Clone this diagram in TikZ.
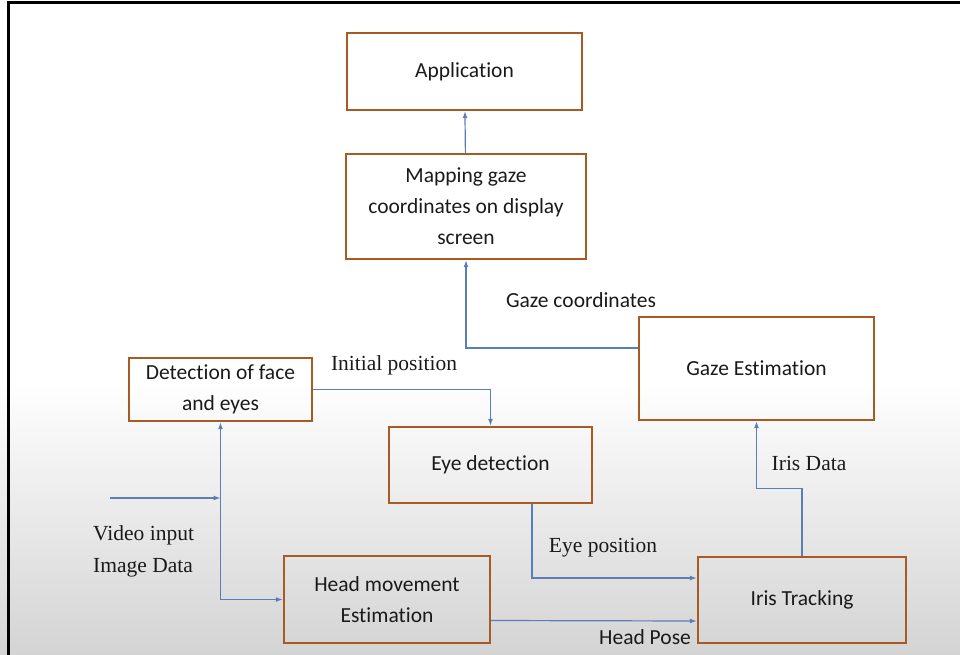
\documentclass[tikz,border=0pt]{standalone}
\usepackage{fontspec}
\setmainfont[Ligatures=NoCommon]{Carlito}
\newfontfamily\serifface{Liberation Serif}
\usetikzlibrary{arrows.meta,calc}
\definecolor{boxedge}{HTML}{A85A22}
\definecolor{flow}{HTML}{5A7FB8}
\definecolor{ink}{HTML}{1A1A1A}

\begin{document}
\begin{tikzpicture}[x=1pt,y=-1pt,
    blk/.style={draw=boxedge, line width=2.4pt, align=center, text=ink, inner sep=2pt,
      font=\fontsize{21.5}{31}\selectfont},
    lbl/.style={text=ink, inner sep=0pt, font=\fontsize{21.5}{31}\selectfont},
    slbl/.style={text=ink, inner sep=0pt, font=\serifface\fontsize{21.5}{32}\selectfont},
    flw/.style={draw=flow, line width=1.2pt, -{Latex[length=7pt,width=5pt]}}]
  \useasboundingbox (0,0) rectangle (960,655);
  % background and frame
  \shade[top color=white, bottom color=black!17] (0,380) rectangle (960,655);
  \draw[line width=3pt, black] (8,655) -- (8,3) -- (960,3);
  %
  % Blocks:
  \node[blk, minimum width=235, minimum height=77] (app) at (464.5,71.5) {Application};
  \node[blk, minimum width=240, minimum height=105] (map) at (466,206.5)
    {Mapping gaze\\coordinates on display\\screen};
  \node[blk, minimum width=235, minimum height=103] (gaze) at (756.5,368.5) {Gaze Estimation};
  \node[blk, minimum width=183, minimum height=63] (face) at (220.5,389.5) {Detection of face\\and eyes};
  \node[blk, minimum width=203, minimum height=76] (eye) at (490.5,465) {Eye detection};
  \node[blk, minimum width=206, minimum height=87] (head) at (387,599.5) {Head movement\\Estimation};
  \node[blk, minimum width=208, minimum height=86] (iris) at (802,600) {Iris Tracking};
  %
  % Labels:
  \node[lbl] (gazelbl) at (581,300) {Gaze coordinates};
  \node[slbl] (initlbl) at (394,365) {Initial position};
  \node[slbl] (eyelbl) at (603,548) {Eye position};
  \node[slbl] (irislbl) at (809,463) {Iris Data};
  \node[slbl, align=left, anchor=west] (vidlbl) at (93,551) {Video input\\Image Data};
  \node[lbl] (poselbl) at (645,637) {Head Pose};
  %
  % Flow Edges:
  \coordinate (vin) at (110,498);
  \coordinate (split) at (face.south |- vin);
  \draw[flw] (map) -- (app);
  \draw[flw] ([yshift=20.5pt]gaze.west) -| (map.south);
  \draw[flw] (face.east) -| (eye.north);
  \draw[flw] ([xshift=41.5pt]eye.south) |- ([yshift=22pt]iris.west);
  \draw[flw] ([yshift=-21pt]head.east) -- ([yshift=-21pt]iris.west);
  \draw[flw] (iris.north) |- ($(iris.north)!.5!(gaze.south)$) -| (gaze.south);
  \draw[flw] (vin) -- (split);
  \draw[flw, {Latex[length=7pt,width=5pt]}-{Latex[length=7pt,width=5pt]}] (face.south) |- (head.west);
\end{tikzpicture}
\end{document}
